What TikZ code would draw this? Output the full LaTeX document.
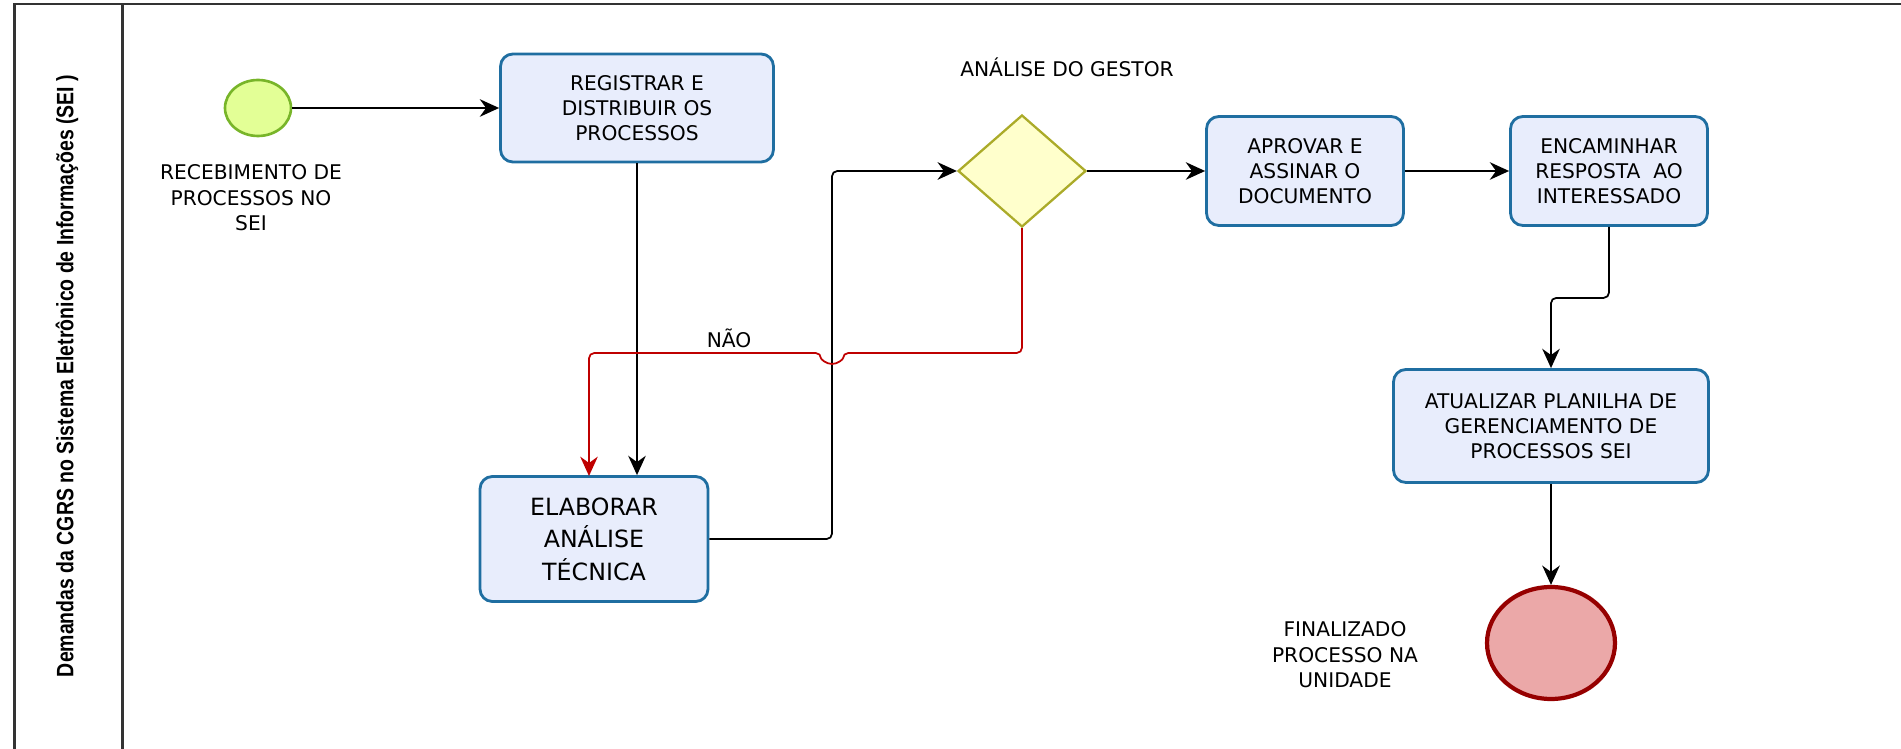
\documentclass[tikz,border=0pt]{standalone}
\usepackage{fontspec}
\setmainfont{DejaVu Sans}
\newfontfamily\lanefont{Liberation Sans}
\usetikzlibrary{arrows.meta, shapes.geometric}
\definecolor{taskfill}{rgb}{0.91, 0.93, 0.99}
\definecolor{taskblue}{rgb}{0.12, 0.43, 0.63}
\definecolor{startfill}{rgb}{0.89, 1.0, 0.59}
\definecolor{startgreen}{rgb}{0.47, 0.71, 0.16}
\definecolor{gatefill}{rgb}{1.0, 1.0, 0.80}
\definecolor{gateolive}{rgb}{0.67, 0.67, 0.16}
\definecolor{endfill}{rgb}{0.92, 0.66, 0.66}
\definecolor{endred}{rgb}{0.59, 0.0, 0.0}
\definecolor{noline}{rgb}{0.75, 0.0, 0.0}

\begin{document}
\begin{tikzpicture} [%
    x = 0.02cm, y = -0.02cm,
    >= { Stealth[length=11pt, width=10pt] },
    flow/.style = {->, line width = 1pt, rounded corners = 3pt},
    noflow/.style = {flow, draw = noline, >= { Stealth[length=11pt, width=10pt, fill=noline] }},
    task/.style = {%
      draw = taskblue,
      fill = taskfill,
      line width = 1.6pt,
      rounded corners = 7pt,
      inner sep = 2pt,
      align = center,
      font = \fontsize{11.5}{14.2}\selectfont },
    gate/.style = {diamond, draw = gateolive, fill = gatefill, line width = 1.3pt, inner sep = 0pt},
    startev/.style = {ellipse, draw = startgreen, fill = startfill, line width = 1.5pt, inner sep = 0pt},
    endev/.style = {ellipse, draw = endred, fill = endfill, line width = 2.4pt, inner sep = 0pt},
    lbl/.style = {align = center, font = \fontsize{11.5}{14.5}\selectfont}
  ]

  \useasboundingbox (0,0) rectangle (1901,749);

  % pool and lane
  \draw[line width = 1.2pt, black!80] (14.5,749) -- (14.5,3.6) -- (1901,3.6);
  \draw[line width = 1.2pt, black!80] (122.5,3.6) -- (122.5,749);
  \node[rotate = 90, font = \lanefont\bfseries\fontsize{13.5}{15}\selectfont] (lane) at (67,376)
    {\scalebox{0.82}[1]{Demandas da CGRS no Sistema Eletrônico de Informações (SEI )}};

  \node[startev, minimum width = 1.32cm, minimum height = 1.12cm] (inicio) at (258,108) {};
  \node[lbl] (inicioLbl) at (251,198) {RECEBIMENTO DE\\PROCESSOS NO\\SEI};

  \node[task, minimum width = 5.46cm, minimum height = 2.16cm] (registrar) at (637,108)
    {REGISTRAR E\\DISTRIBUIR OS\\PROCESSOS};
  \node[task, minimum width = 4.56cm, minimum height = 2.5cm,
    font = \fontsize{13.5}{18.5}\selectfont] (elaborar) at (594,539)
    {ELABORAR\\ANÁLISE\\TÉCNICA};

  \node[gate, minimum width = 2.56cm, minimum height = 2.24cm] (gestor) at (1022,171) {};
  \node[lbl] (gestorLbl) at (1067,67) {ANÁLISE DO GESTOR};

  \node[task, minimum width = 3.94cm, minimum height = 2.18cm] (aprovar) at (1305,171)
    {APROVAR E\\ASSINAR O\\DOCUMENTO};
  \node[task, minimum width = 3.94cm, minimum height = 2.18cm] (encaminhar) at (1609,171)
    {ENCAMINHAR\\RESPOSTA~ AO\\INTERESSADO};
  \node[task, minimum width = 6.3cm, minimum height = 2.26cm] (atualizar) at (1551,426)
    {ATUALIZAR PLANILHA DE\\GERENCIAMENTO DE\\PROCESSOS SEI};

  \node[endev, minimum width = 2.56cm, minimum height = 2.24cm] (fim) at (1551,643) {};
  \node[lbl] (fimLbl) at (1345,655) {FINALIZADO\\PROCESSO NA\\UNIDADE};

  \draw[flow] (inicio.east) -- (inicio.east -| registrar.west);
  \draw[flow] (registrar.south) -- (registrar.south |- elaborar.north);
  \draw[flow] (elaborar.east) -| (832,171) -- (gestor.west);
  \draw[flow] (gestor.east) -- (aprovar.west);
  \draw[flow] (aprovar.east) -- (encaminhar.west);
  \draw[flow] (encaminhar.south) -- ++(0,71) -| (atualizar.north);
  \draw[flow] (atualizar.south) -- (fim.north);

  \draw[noflow] (gestor.south) -- (1022,353) -- (843,353)
    arc[start angle = 0, end angle = 180, radius = 11] -- (589,353) -- (589,476);
  \node[lbl] (nao) at (729,338) {NÃO};

\end{tikzpicture}
\end{document}
